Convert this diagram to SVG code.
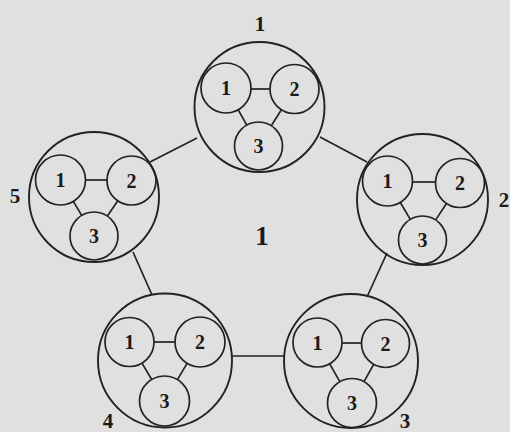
<svg xmlns="http://www.w3.org/2000/svg" width="510" height="432" viewBox="0 0 510 432">
<style>
.big{fill:none;stroke:#222;stroke-width:1.9}
.sm{fill:none;stroke:#222;stroke-width:1.7}
.ln{stroke:#222;stroke-width:1.7;fill:none}
.t{font-family:"Liberation Serif","Times New Roman",serif;font-weight:bold;font-size:20px;fill:#1a1a1a;text-anchor:middle}
.lb{font-family:"Liberation Serif","Times New Roman",serif;font-weight:bold;font-size:21px;fill:#1a1a1a;text-anchor:middle}
.ctr{font-family:"Liberation Serif","Times New Roman",serif;font-weight:bold;font-size:27px;fill:#1a1a1a;text-anchor:middle}
</style>
<rect width="510" height="432" fill="#e0e0e0"/>
<g id="connectors">
<line class="ln" x1="150" y1="162" x2="197" y2="138"/>
<line class="ln" x1="320" y1="137" x2="367" y2="162"/>
<line class="ln" x1="387" y1="253" x2="367" y2="297"/>
<line class="ln" x1="133" y1="252" x2="152" y2="295"/>
<line class="ln" x1="232" y1="356" x2="284" y2="356"/>
</g>
<g id="node1">
<circle class="big" cx="259.5" cy="107" r="65"/>
<circle class="sm" cx="226" cy="88" r="25"/>
<circle class="sm" cx="294.5" cy="89" r="24.5"/>
<circle class="sm" cx="258.5" cy="146" r="24"/>
<line class="ln" x1="251" y1="89" x2="270" y2="89"/>
<line class="ln" x1="238.2" y1="109.8" x2="246.8" y2="125.1"/>
<line class="ln" x1="281.4" y1="109.7" x2="271.3" y2="125.7"/>
<text class="t" x="226" y="95">1</text>
<text class="t" x="294.5" y="96">2</text>
<text class="t" x="258.5" y="153">3</text>
<text class="lb" x="260" y="31">1</text>
</g>
<g id="node2">
<circle class="big" cx="422.5" cy="199.5" r="65.5"/>
<circle class="sm" cx="387.5" cy="181" r="25"/>
<circle class="sm" cx="460" cy="183" r="24.5"/>
<circle class="sm" cx="422.5" cy="240" r="24"/>
<line class="ln" x1="412.5" y1="182" x2="435.5" y2="182"/>
<line class="ln" x1="400.3" y1="202.5" x2="410.3" y2="219.4"/>
<line class="ln" x1="446.5" y1="203.5" x2="435.7" y2="219.9"/>
<text class="t" x="387.5" y="188">1</text>
<text class="t" x="460" y="190">2</text>
<text class="t" x="422.5" y="247">3</text>
<text class="lb" x="504" y="207">2</text>
</g>
<g id="node3">
<circle class="big" cx="351" cy="361" r="67"/>
<circle class="sm" cx="317.5" cy="342.5" r="24.5"/>
<circle class="sm" cx="385.5" cy="343.5" r="24"/>
<circle class="sm" cx="352" cy="403" r="24.5"/>
<line class="ln" x1="342" y1="343" x2="361.5" y2="343"/>
<line class="ln" x1="329.7" y1="363.8" x2="339.8" y2="381.7"/>
<line class="ln" x1="373.7" y1="364.4" x2="364" y2="381.7"/>
<text class="t" x="317.5" y="349.5">1</text>
<text class="t" x="385.5" y="350.5">2</text>
<text class="t" x="352" y="410">3</text>
<text class="lb" x="405" y="428">3</text>
</g>
<g id="node4">
<circle class="big" cx="165" cy="360.5" r="67"/>
<circle class="sm" cx="129.5" cy="342" r="24.5"/>
<circle class="sm" cx="200" cy="342" r="25"/>
<circle class="sm" cx="164.5" cy="401" r="25"/>
<line class="ln" x1="154" y1="342" x2="175" y2="342"/>
<line class="ln" x1="142" y1="363.1" x2="151.7" y2="379.5"/>
<line class="ln" x1="187.1" y1="363.4" x2="177.4" y2="379.6"/>
<text class="t" x="129.5" y="349">1</text>
<text class="t" x="200" y="349">2</text>
<text class="t" x="164.5" y="408">3</text>
<text class="lb" x="108" y="428">4</text>
</g>
<g id="node5">
<circle class="big" cx="94" cy="197" r="65"/>
<circle class="sm" cx="60.5" cy="180" r="25"/>
<circle class="sm" cx="131.5" cy="180.5" r="24.5"/>
<circle class="sm" cx="94" cy="236" r="24"/>
<line class="ln" x1="85.5" y1="180" x2="107" y2="180"/>
<line class="ln" x1="73.3" y1="201.4" x2="81.7" y2="215.4"/>
<line class="ln" x1="117.8" y1="200.8" x2="107.4" y2="216.1"/>
<text class="t" x="60.5" y="187">1</text>
<text class="t" x="131.5" y="187.5">2</text>
<text class="t" x="94" y="243">3</text>
<text class="lb" x="15" y="203">5</text>
</g>
<text class="ctr" x="262" y="245">1</text>
</svg>
